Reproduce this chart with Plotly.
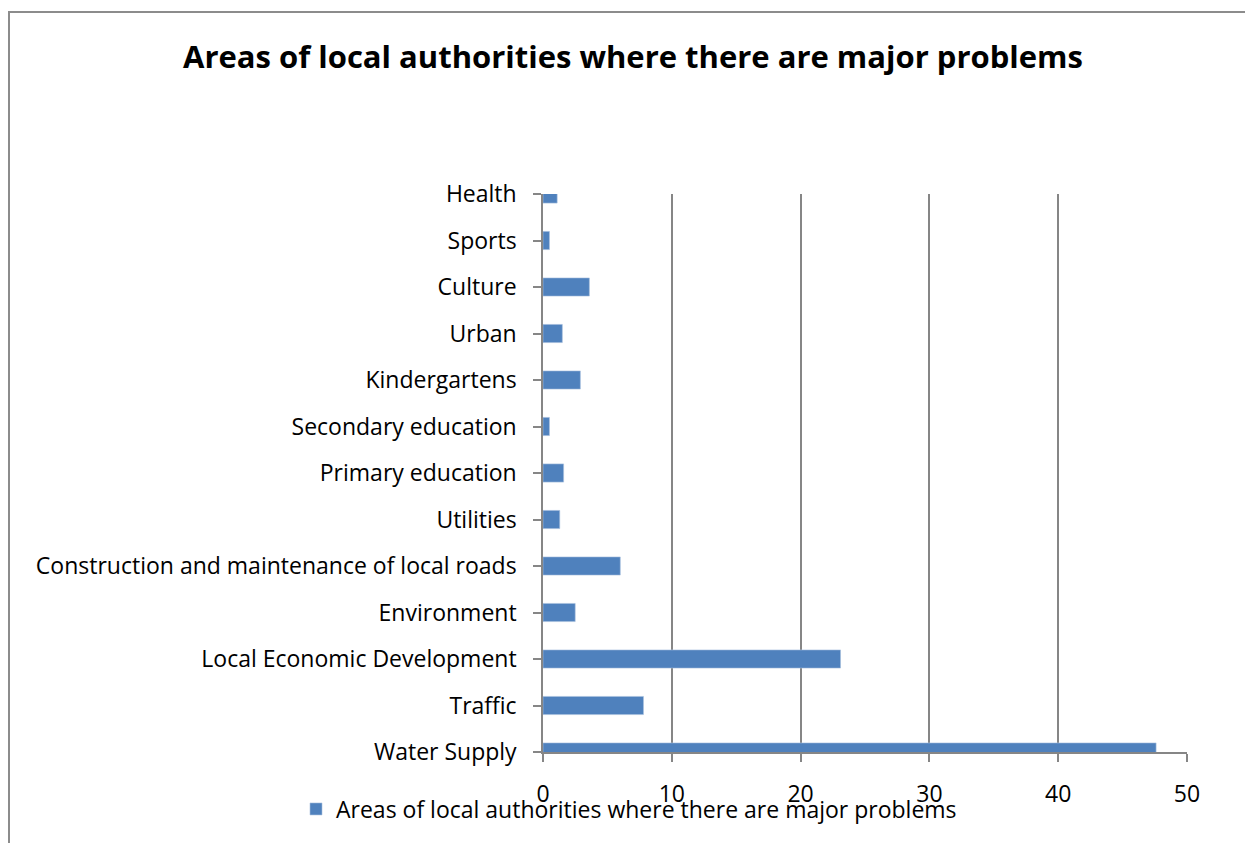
import plotly.graph_objects as go

# Categories listed bottom-to-top as they appear on the axis
categories = [
    "Water Supply",
    "Traffic",
    "Local Economic Development",
    "Environment",
    "Construction and maintenance of local roads",
    "Utilities",
    "Primary education",
    "Secondary education",
    "Kindergartens",
    "Urban",
    "Culture",
    "Sports",
    "Health",
]
values = [47.6, 7.8, 23.1, 2.5, 6.0, 1.3, 1.6, 0.5, 2.9, 1.5, 3.6, 0.5, 1.1]
x_ticks = [0, 10, 20, 30, 40, 50]

series_name = "Areas of local authorities where there are major problems"
title_text = "Areas of local authorities where there are major problems"

FONT = "Open Sans"
LABEL_SIZE = 23
BAR_COLOR = "#4F81BD"
AXIS_GRAY = "#868686"

W, H = 1245, 843
L, R, T, B = 543, 1187, 194, 752  # plot area in pixels
pw, ph = R - L, B - T

fig = go.Figure()
fig.add_trace(go.Bar(
    y=categories,
    x=values,
    orientation="h",
    name=series_name,
    marker=dict(color=BAR_COLOR, line=dict(color="#A7C0DE", width=0.6)),
    width=0.39,
    showlegend=True,
))

fig.update_layout(
    width=W,
    height=H,
    margin=dict(l=L, r=W - R, t=T, b=H - B, pad=0),
    paper_bgcolor="white",
    plot_bgcolor="white",
    font=dict(family=FONT, size=LABEL_SIZE, color="black"),
    title=dict(
        text=title_text,
        x=633 / W,
        xanchor="center",
        y=1 - 57 / H,
        yanchor="middle",
        font=dict(family=FONT, size=31, color="black", weight="bold"),
    ),
    showlegend=True,
    legend=dict(
        orientation="h",
        x=(296 - L) / pw,
        xanchor="left",
        y=(B - 809) / ph,
        yanchor="middle",
        font=dict(family=FONT, size=LABEL_SIZE, color="black"),
        bgcolor="rgba(0,0,0,0)",
        itemwidth=30,
    ),
    bargap=0.6,
)

fig.update_xaxes(
    range=[0, 50],
    tickvals=x_ticks,
    ticktext=[str(v) for v in x_ticks],
    showgrid=True,
    gridcolor=AXIS_GRAY,
    gridwidth=1.5,
    zeroline=False,
    showline=True,
    linecolor=AXIS_GRAY,
    linewidth=1.5,
    ticks="outside",
    ticklen=8,
    tickcolor=AXIS_GRAY,
    tickwidth=1.5,
    ticklabelstandoff=13,
    tickfont=dict(family=FONT, size=LABEL_SIZE, color="black"),
    fixedrange=True,
)

fig.update_yaxes(
    type="category",
    categoryorder="array",
    categoryarray=categories,
    range=[0, len(categories) - 1],
    showgrid=False,
    zeroline=False,
    showline=True,
    linecolor=AXIS_GRAY,
    linewidth=1.5,
    ticks="outside",
    ticklen=8,
    tickcolor=AXIS_GRAY,
    tickwidth=1.5,
    ticklabelstandoff=12,
    tickfont=dict(family=FONT, size=LABEL_SIZE, color="black"),
    fixedrange=True,
)

# Chart frame, running off the right and bottom edges of the page
fig.add_shape(
    type="rect",
    xref="paper", yref="paper",
    x0=(9 - L) / pw, x1=(W + 20 - L) / pw,
    y0=(B - (H + 20)) / ph, y1=(B - 12) / ph,
    line=dict(color="#8C8C8C", width=2),
    fillcolor="rgba(0,0,0,0)",
    layer="below",
)

fig.write_html("out.html")
